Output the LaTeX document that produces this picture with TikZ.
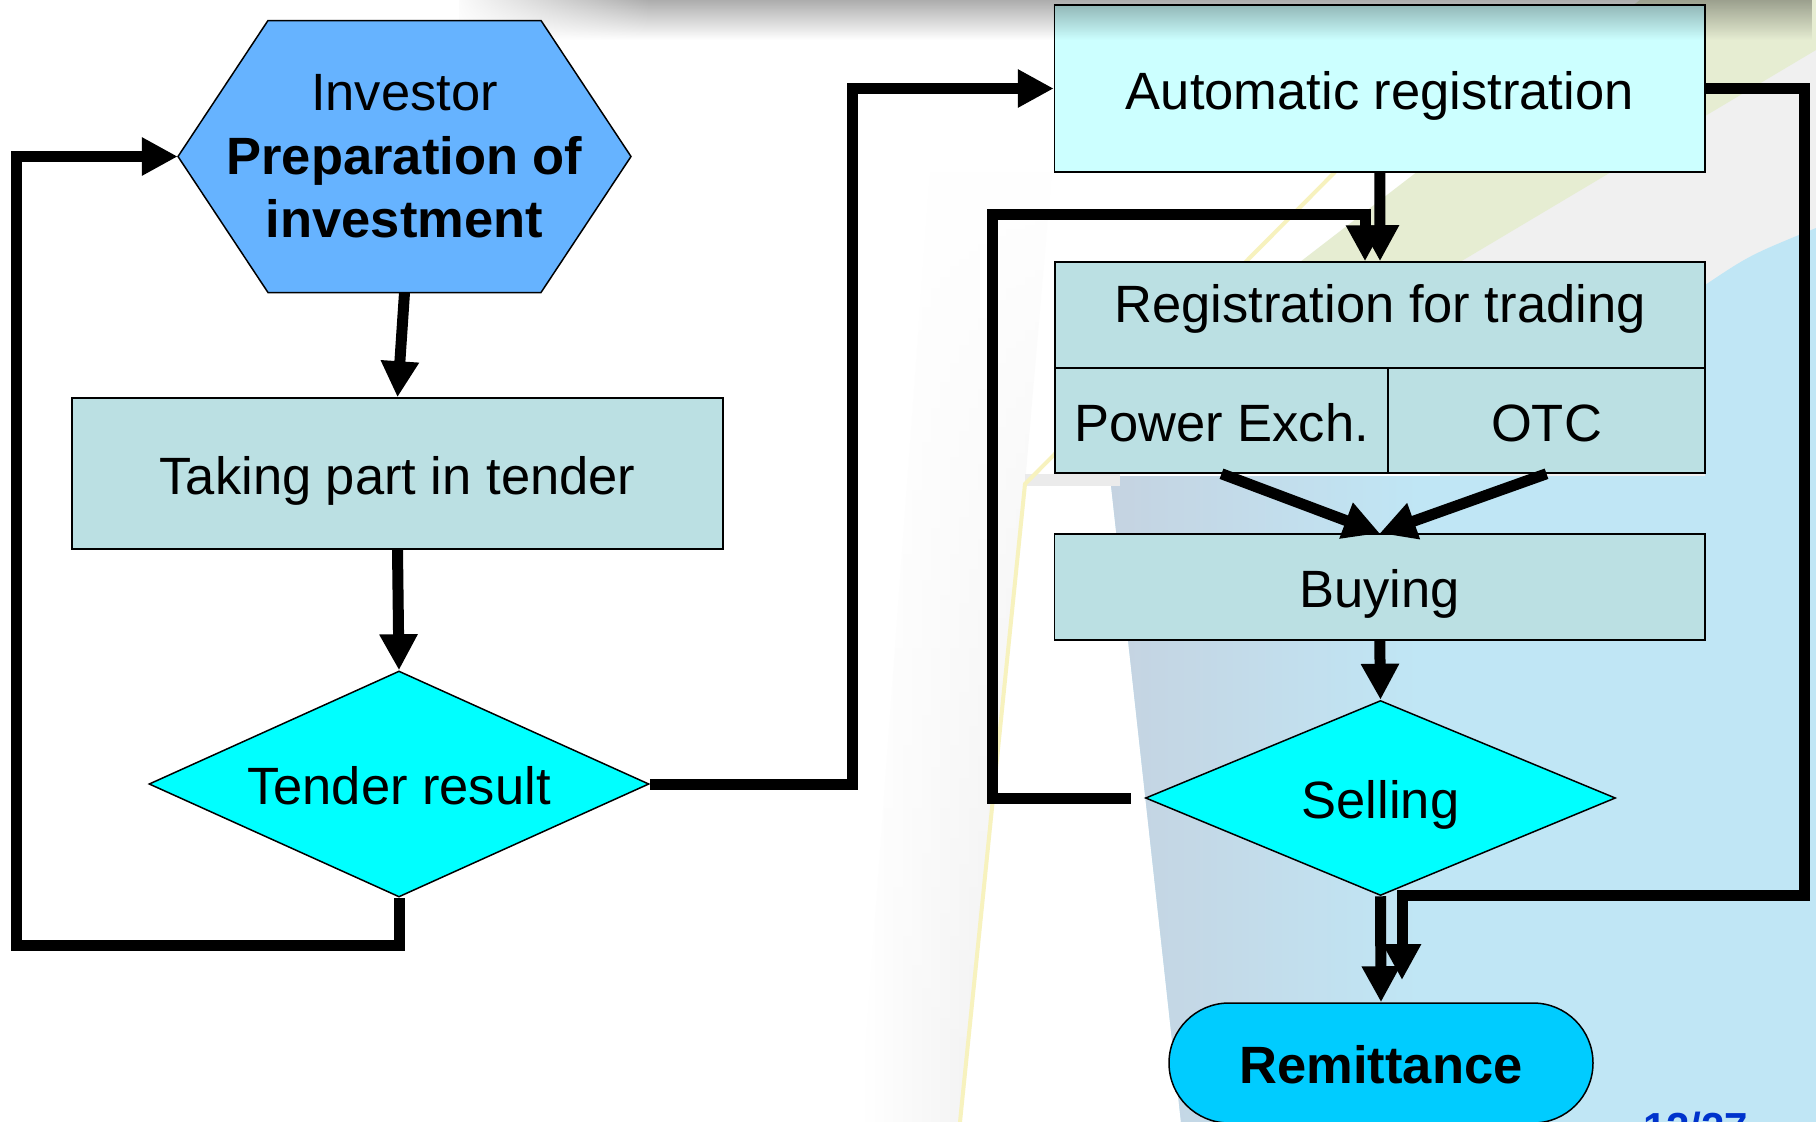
\documentclass[tikz,border=0pt]{standalone}
\usepackage{fontspec}
\setmainfont{Liberation Sans}
\usetikzlibrary{arrows.meta,shapes.geometric,calc,fadings}
\definecolor{hexblue}{HTML}{66B3FF}
\definecolor{boxteal}{HTML}{BBE0E3}
\definecolor{autocyan}{HTML}{CCFFFF}
\definecolor{diacyan}{HTML}{00FFFF}
\definecolor{remblue}{HTML}{00CCFF}
\definecolor{pagenum}{HTML}{0033CC}
\definecolor{bgblue}{HTML}{C0E6F5}
\definecolor{bggrayblue}{HTML}{C5D3E1}
\definecolor{bggray}{HTML}{F0F0F0}
\definecolor{bggreen}{HTML}{E6EDD2}
\definecolor{bgyellow}{HTML}{F7F2BE}
\tikzfading[name=fadeoutright, left color=transparent!0, right color=transparent!100]
\tikzfading[name=fadedown, top color=transparent!0, bottom color=transparent!100]
\tikzfading[name=fadeup, top color=transparent!100, bottom color=transparent!0]
\begin{document}
\begin{tikzpicture}[x=1pt,y=-1pt,
  fnt/.style={font=\fontsize{52.5}{63.5}\selectfont},
  ctr/.style={text height=41pt, text depth=0pt},
  box/.style={rectangle, draw=black, line width=1.5pt, inner sep=0pt, fnt, ctr},
  dia/.style={diamond, draw=black, line width=1.5pt, fill=diacyan, inner sep=0pt},
  lbl/.style={fnt, ctr, inner sep=0pt},
  shadowband/.style={black, opacity=0.32, path fading=fadedown},
  conn/.style={line width=11pt, line join=miter, -{Triangle[length=36pt,width=36pt]}}]
\useasboundingbox (0,0) rectangle (1816,1122);
% ---------- slide background ----------
\fill[white] (0,0) rectangle (1816,1122);
\shade[left color=white, right color=black!8, path fading=fadeup] (930,172) -- (1052,172) -- (1025,484) -- (960,1122) -- (860,1122) -- cycle;
\fill[bggray] (1440,262) -- (1816,30) -- (1816,480) -- (1440,480) -- cycle;
\fill[bggreen] (1300,262) -- (1460,262) -- (1816,50) -- (1816,0) -- (1640,0) -- cycle;
\fill[bgblue] (1110,476) -- (1705,476) -- (1705,285) .. controls (1750,255) .. (1816,228) -- (1816,1122) -- (1181,1122) -- cycle;
\shade[left color=bggrayblue, right color=bgblue] (1110,476) -- (1420,476) -- (1420,1122) -- (1181,1122) -- cycle;
\fill[black!8] (1025,474) rectangle (1120,486);
\draw[bgyellow, line width=4pt] (1335,172) -- (1025,484) -- (960,1122);
% top shadow of the slide header, faded out to the left
\fill[shadowband] (460,0) rectangle (1816,40);
\fill[white, path fading=fadeoutright] (450,0) rectangle (650,41);
% ---------- nodes ----------
\filldraw[fill=hexblue, draw=black, line width=1.5pt] (178,156.5) -- (268,20.5) -- (541,20.5) -- (631,156.5) -- (541,292.5) -- (268,292.5) -- cycle;
\node[fnt, align=center, minimum width=453pt, minimum height=272pt, inner sep=0pt] (hex) at (404.5,156.5) {Investor\\\textbf{Preparation of}\\\textbf{investment}};
\node[box, fill=boxteal, minimum width=651pt, minimum height=151pt] (taking) at (397.5,473.5) {Taking part in tender};
\node[dia, minimum width=500pt, minimum height=226pt, label={[lbl]center:Tender result}] (tender) at (399,784) {};
\node[box, fill=autocyan, minimum width=650.5pt, minimum height=167pt] (autoreg) at (1379.75,88.5) {Automatic registration};
\node[box, fill=boxteal, minimum width=650pt, minimum height=106pt, text height=14pt] (regtop) at (1380,315) {Registration for trading};
\node[box, fill=boxteal, minimum width=333pt, minimum height=105pt] (power) at (1221.5,420.5) {Power Exch.};
\node[box, fill=boxteal, minimum width=317pt, minimum height=105pt] (otc) at (1546.5,420.5) {OTC};
\node[box, fill=boxteal, minimum width=650.5pt, minimum height=106pt] (buying) at (1379.75,587) {Buying};
\node[dia, minimum width=470pt, minimum height=195pt, label={[lbl]center:Selling}] (selling) at (1380.5,798) {};
\node[box, fill=remblue, rounded corners=60pt, minimum width=424pt, minimum height=120pt, font=\fontsize{52.5}{63.5}\selectfont\bfseries] (remit) at (1381,1063) {Remittance};
\node[anchor=base west, inner sep=0pt, text=pagenum, font=\fontsize{42}{50}\selectfont\bfseries] (page) at (1643,1142) {12/27};
% ---------- the header shadow also falls on the top box ----------
\begin{scope}
  \clip (autoreg.north west) rectangle (autoreg.south east);
  \fill[shadowband] (460,0) rectangle (1816,40);
\end{scope}
% ---------- connectors ----------
\coordinate (lpa) at (16,945);
\coordinate (lpb) at (852,88.5);
\coordinate (lpd) at (1804,895);
\coordinate (rend) at (1402,980);
\coordinate (sgap) at ($(selling.west)+(-14,0)$);
\coordinate (lpc) at (992.5,214);
\coordinate (rin) at ($(regtop.north)+(-15,0)$);
\draw[conn] (hex.south) -- (taking.north);
\draw[conn] (taking.south) -- (tender.north);
\draw[conn] (tender.south) |- (lpa) |- (hex.west);
\draw[conn] (tender.east) -| (lpb) -- (autoreg.west);
\draw[conn] (autoreg.south) -- (regtop.north);
\draw[conn] (sgap) -| (lpc) -| (rin);
\draw[conn] (power.south) -- (buying.north);
\draw[conn] (otc.south) -- (buying.north);
\draw[conn] (buying.south) -- (selling.north);
\draw[conn] (selling.south) -- (remit.north);
\draw[conn] (autoreg.east) -| (lpd) -| (rend);
\end{tikzpicture}
\end{document}
